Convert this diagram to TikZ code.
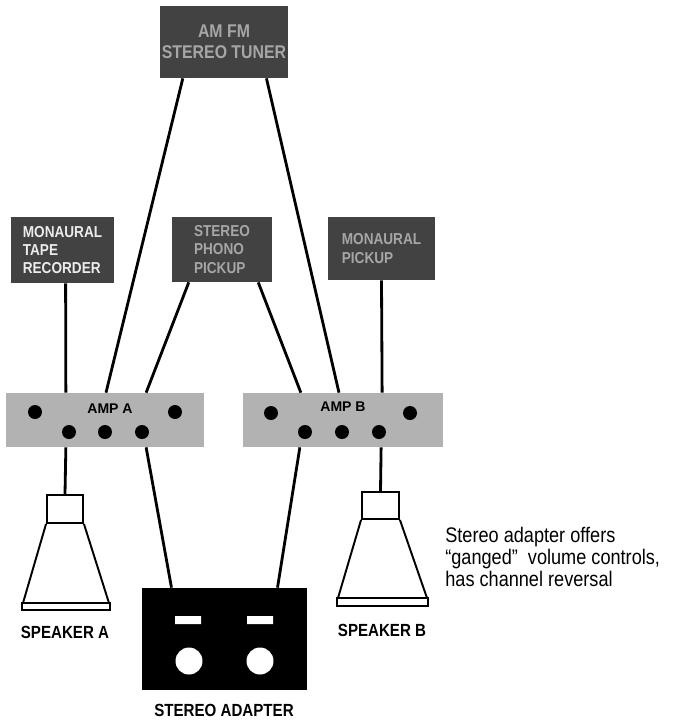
\documentclass[tikz,border=0pt]{standalone}
\usepackage{fontspec}
\setmainfont{Liberation Sans}
\newfontfamily\narrowfont{Liberation Sans}[FakeStretch=0.86]
\usetikzlibrary{calc}

\begin{document}
\begin{tikzpicture}[x=0.02cm,y=-0.02cm,
	srcbox/.style={fill=black!74,text=black!35,inner sep=0pt,align=left,
		font=\narrowfont\bfseries\fontsize{9}{10.5}\selectfont},
	ampbox/.style={fill=black!30,inner sep=0pt},
	jack/.style={circle,fill=black,inner sep=0pt,minimum size=0.28cm},
	wire/.style={line width=1.6pt},
	spk/.style={draw,line width=1.1pt,inner sep=0pt},
	tag/.style={font=\narrowfont\bfseries\fontsize{10}{12}\selectfont}]
	\useasboundingbox (0,0) rectangle (685,721);

	% sources
	\node[srcbox,minimum width=2.56cm,minimum height=1.44cm,align=center,
		font=\narrowfont\bfseries\fontsize{10.5}{12}\selectfont] (tuner) at (224,42) {AM FM\\STEREO TUNER};
	\node[srcbox,text=black!8,minimum width=2.06cm,minimum height=1.32cm] (tape) at (62.5,250) {MONAURAL\\TAPE\\RECORDER};
	\node[srcbox,minimum width=2.0cm,minimum height=1.3cm] (phono) at (222,249.5) {STEREO\\PHONO\\PICKUP};
	\node[srcbox,minimum width=2.14cm,minimum height=1.26cm] (mono) at (381.5,248.5) {MONAURAL\\PICKUP};

	% amplifiers
	\node[ampbox,minimum width=3.96cm,minimum height=1.08cm] (ampA) at (105,420) {};
	\node[ampbox,minimum width=4.0cm,minimum height=1.08cm] (ampB) at (343,420) {};
	\node[font=\bfseries\fontsize{8}{9}\selectfont] (ampAlbl) at (110,409) {AMP A};
	\node[font=\bfseries\fontsize{8}{9}\selectfont] (ampBlbl) at (343,407) {AMP B};
	\foreach \x/\y [count=\i] in {35/412,175/412,69/432,105/432,142/432}
		\node[jack] (ja\i) at (\x,\y) {};
	\foreach \x/\y [count=\i] in {271/413,410/413,305/432,342/432,379/432}
		\node[jack] (jb\i) at (\x,\y) {};

	% speakers
	\node[spk,minimum width=0.72cm,minimum height=0.56cm] (spkA) at (65,509) {};
	\draw[line width=1.1pt] (spkA.south west) -- (23,603) -- (109,603) -- (spkA.south east);
	\draw[line width=1.1pt] (22,603) rectangle (110,610);
	\node[spk,minimum width=0.74cm,minimum height=0.54cm] (spkB) at (380.5,505.5) {};
	\draw[line width=1.1pt] (spkB.south west) -- (338,598) -- (427,598) -- (spkB.south east);
	\draw[line width=1.1pt] (337,598) rectangle (428,606);
	\node[tag] (spkAlbl) at (65,632) {SPEAKER A};
	\node[tag] (spkBlbl) at (382,630) {SPEAKER B};

	% stereo adapter
	\node[fill=black,inner sep=0pt,minimum width=3.3cm,minimum height=2.04cm] (adapter) at (224.5,639) {};
	\fill[white] (175,616) rectangle (201,624) (247,616) rectangle (273,624);
	\fill[white] (189,661) circle (0.27cm) (260,661) circle (0.27cm);
	\node[tag] (adlbl) at (224,710) {STEREO ADAPTER};

	% wiring
	\draw[wire] ($(tuner.south west)!.18!(tuner.south east)$) -- ($(ampA.north west)!.505!(ampA.north east)$);
	\draw[wire] ($(tuner.south west)!.83!(tuner.south east)$) -- ($(ampB.north west)!.48!(ampB.north east)$);
	\draw[wire] ($(tape.south west)!.53!(tape.south east)$) -- ($(ampA.north west)!.303!(ampA.north east)$);
	\draw[wire] ($(phono.south west)!.17!(phono.south east)$) -- ($(ampA.north west)!.707!(ampA.north east)$);
	\draw[wire] ($(phono.south west)!.86!(phono.south east)$) -- ($(ampB.north west)!.29!(ampB.north east)$);
	\draw[wire] (mono.south) -- ($(ampB.north west)!.695!(ampB.north east)$);
	\draw[wire] ($(ampA.south west)!.303!(ampA.south east)$) -- (spkA.north);
	\draw[wire] ($(ampA.south west)!.707!(ampA.south east)$) -- ($(adapter.north west)!.18!(adapter.north east)$);
	\draw[wire] ($(ampB.south west)!.285!(ampB.south east)$) -- ($(adapter.north west)!.82!(adapter.north east)$);
	\draw[wire] ($(ampB.south west)!.69!(ampB.south east)$) -- (spkB.north);

	% last line's baseline sits at the anchor
	\node[anchor=base west,align=left,inner sep=0pt,font=\narrowfont\fontsize{12}{12.5}\selectfont] (note) at (445,586)
		{Stereo adapter offers\\“ganged”\ \ volume controls,\\has channel reversal};
\end{tikzpicture}
\end{document}
